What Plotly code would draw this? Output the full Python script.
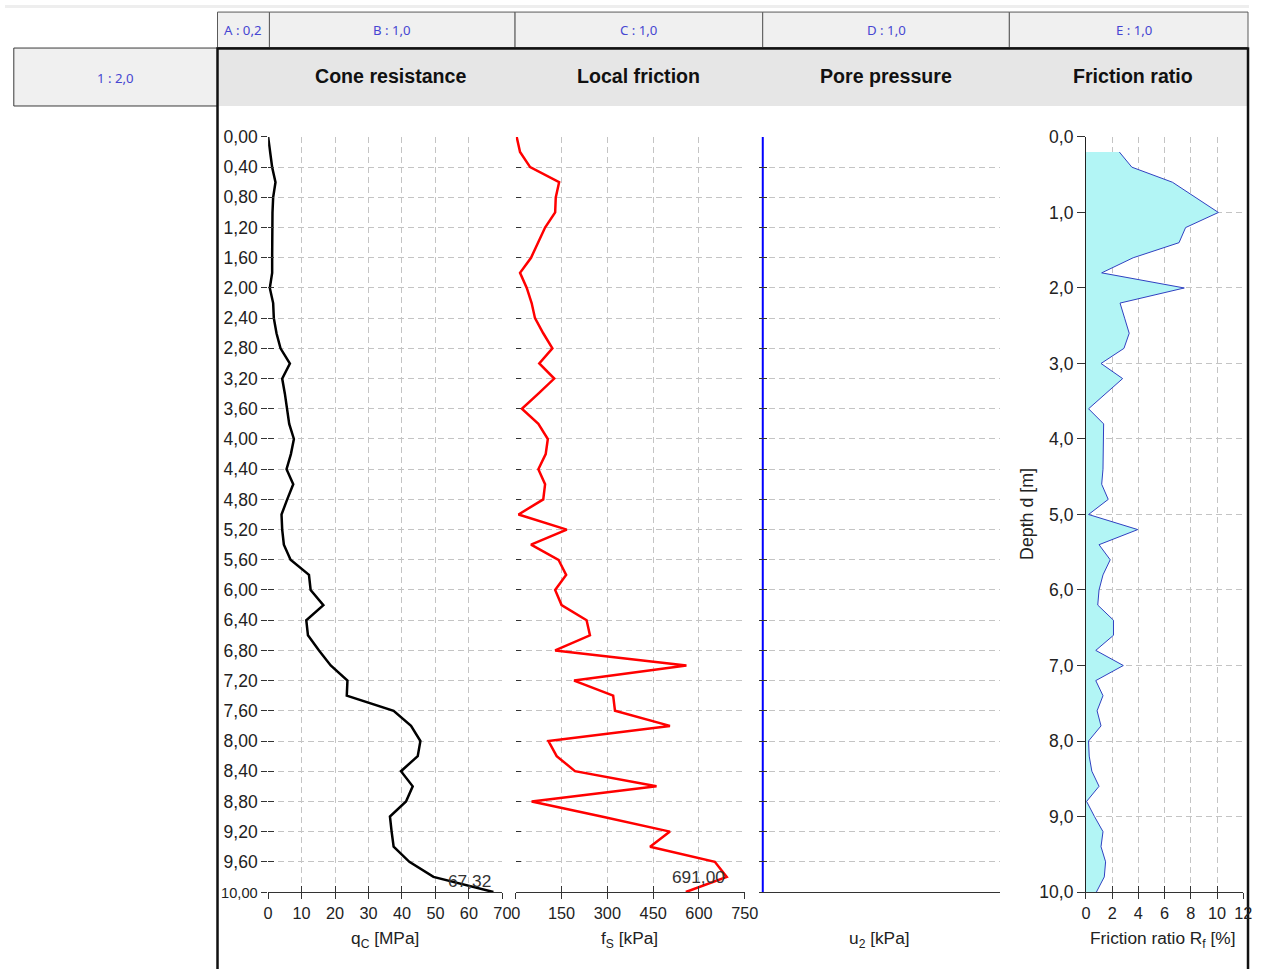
import plotly.graph_objects as go

# ---------------- data ----------------
depth = [0.0, 0.2, 0.4, 0.6, 0.8, 1.0, 1.2, 1.4, 1.6, 1.8,
         2.0, 2.2, 2.4, 2.6, 2.8, 3.0, 3.2, 3.4, 3.6, 3.8,
         4.0, 4.2, 4.4, 4.6, 4.8, 5.0, 5.2, 5.4, 5.6, 5.8,
         6.0, 6.2, 6.4, 6.6, 6.8, 7.0, 7.2, 7.4, 7.6, 7.8,
         8.0, 8.2, 8.4, 8.6, 8.8, 9.0, 9.2, 9.4, 9.6, 9.8, 10.0]

qc_mpa = [0.0, 0.5, 1.2, 2.2, 1.5, 1.3, 1.2, 1.1, 1.2, 1.2,
          0.5, 1.5, 1.7, 2.5, 3.7, 6.5, 4.2, 5.0, 5.7, 6.3,
          7.7, 6.8, 5.5, 7.5, 5.7, 4.0, 4.2, 4.7, 6.7, 12.2,
          12.7, 16.5, 11.4, 11.9, 15.2, 18.7, 23.7, 23.5, 37.5, 42.7,
          45.5, 44.7, 39.7, 43.2, 41.2, 36.4, 36.9, 37.5, 42.2, 49.4, 67.32]

fs_kpa = [3, 14, 47, 142, 131, 129, 96, 74, 50, 14,
          36, 52, 63, 90, 120, 77, 126, 74, 20, 74,
          105, 98, 74, 96, 90, 9, 167, 50, 140, 165,
          129, 150, 232, 243, 129, 559, 191, 319, 325, 505,
          107, 134, 194, 461, 52, 281, 505, 440, 652, 691, 557]

u2_depth = [0.0, 10.0]
u2_kpa = [0.0, 0.0]

rf_depth = [0.2, 0.4, 0.6, 0.8, 1.0, 1.2, 1.4, 1.6, 1.8,
            2.0, 2.2, 2.4, 2.6, 2.8, 3.0, 3.2, 3.4, 3.6, 3.8,
            4.0, 4.2, 4.4, 4.6, 4.8, 5.0, 5.2, 5.4, 5.6, 5.8,
            6.0, 6.2, 6.4, 6.6, 6.8, 7.0, 7.2, 7.4, 7.6, 7.8,
            8.0, 8.2, 8.4, 8.6, 8.8, 9.0, 9.2, 9.4, 9.6, 9.8, 10.0]
rf_pct = [2.55, 3.5, 6.6, 8.4, 10.1, 7.6, 7.1, 3.6, 1.2,
          7.5, 2.6, 2.95, 3.3, 2.9, 1.15, 2.8, 1.5, 0.2, 1.35,
          1.35, 1.3, 1.3, 1.2, 1.7, 0.2, 3.95, 1.0, 1.85, 1.3,
          1.0, 0.9, 2.1, 2.1, 0.75, 2.85, 0.75, 1.3, 0.85, 1.15,
          0.2, 0.25, 0.45, 1.0, 0.05, 0.65, 1.3, 1.15, 1.5, 1.4, 0.8]

depth_ticks = [0.0, 0.4, 0.8, 1.2, 1.6, 2.0, 2.4, 2.8, 3.2, 3.6, 4.0, 4.4, 4.8,
               5.2, 5.6, 6.0, 6.4, 6.8, 7.2, 7.6, 8.0, 8.4, 8.8, 9.2, 9.6, 10.0]

column_headers = ["A : 0,2", "B : 1,0", "C : 1,0", "D : 1,0", "E : 1,0"]
row_header = "1 : 2,0"
panel_titles = ["Cone resistance", "Local friction", "Pore pressure", "Friction ratio"]
axis_titles = ["q<sub>C</sub> [MPa]", "f<sub>S</sub> [kPa]", "u<sub>2</sub> [kPa]",
               "Friction ratio R<sub>f</sub> [%]"]
depth_title = "Depth d [m]"

# ---------------- layout helpers ----------------
W, H = 1263, 969
# map target-picture pixel positions to page pixels (compensates the capture scaling)
SX, BX = 0.9864, 4.18
SY, BY = 0.9802, 8.93
def pgx(x):
    return (x - BX) / SX
def pgy(y):
    return (y - BY) / SY
def px(x):
    return min(max(pgx(x), 0.0), W - 1.0) / W
def py(y):
    return 1 - pgy(y) / H
FS = 1 / 0.983  # font scale

FONT = "Liberation Sans, Arial, sans-serif"
HFONT = "Noto Sans, Open Sans, sans-serif"
GRID = "#c4c4c4"
DASH = "6px,4px"
AX = "#333333"

Y_DOM = [py(891.7), py(136)]

fig = go.Figure()

fig.add_trace(go.Scatter(x=qc_mpa, y=depth, mode="lines", xaxis="x", yaxis="y",
                         line=dict(color="black", width=2.5), showlegend=False, hoverinfo="x+y"))
fig.add_trace(go.Scatter(x=fs_kpa, y=depth, mode="lines", xaxis="x2", yaxis="y2",
                         line=dict(color="#ff0000", width=2.5), showlegend=False, hoverinfo="x+y"))
fig.add_trace(go.Scatter(x=u2_kpa, y=u2_depth, mode="lines", xaxis="x3", yaxis="y3",
                         line=dict(color="#0000ff", width=2), showlegend=False, hoverinfo="x+y"))
fig.add_trace(go.Scatter(x=rf_pct, y=rf_depth, mode="lines", xaxis="x4", yaxis="y4",
                         fill="tozerox", fillcolor="#b2f5f5",
                         line=dict(color="#3040c0", width=1), showlegend=False, hoverinfo="x+y"))

for xa, ya in [("x5", "y"), ("x", "y5"), ("x6", "y2"), ("x7", "y4")]:
    fig.add_trace(go.Scatter(x=[None], y=[None], xaxis=xa, yaxis=ya, mode="lines",
                             showlegend=False, hoverinfo="skip"))

tickfont_x = dict(family=FONT, size=16.3, color="#222222")
tickfont_y = dict(family=FONT, size=17.5, color="#222222")

def depth_label(v):
    s = f"{v:.2f}".replace(".", ",")
    if len(s) > 4:  # the wide label is squeezed in the original
        s = '<span style="font-size:14.6px">' + s + "</span>"
    return s

def xax(dom, rng, dtick, **kw):
    d = dict(domain=[px(dom[0]), px(dom[1])], range=rng, dtick=dtick, tick0=0,
             ticks="outside", ticklen=6, tickcolor=AX, tickwidth=1,
             showline=True, linecolor=AX, linewidth=1,
             showgrid=True, gridcolor=GRID, griddash=DASH, gridwidth=1,
             zeroline=False, tickfont=tickfont_x, fixedrange=True)
    d.update(kw)
    return d

def yax(**kw):
    d = dict(domain=Y_DOM, range=[10, 0], dtick=0.4, tick0=0,
             showgrid=True, gridcolor=GRID, griddash=DASH, gridwidth=1,
             zeroline=False, showline=False, tickcolor=AX, tickwidth=1,
             tickfont=tickfont_y, fixedrange=True)
    d.update(kw)
    return d

QC_DOM = (267.7, 502.3)
FS_DOM = (515.7, 745.0)
U2_DOM = (759.5, 1001.0)
RF_DOM = (1086.7, 1244.3)

def overlay_x(over, anchor, rng, dtick):
    return dict(overlaying=over, anchor=anchor, range=rng, dtick=dtick, tick0=0,
                ticks="inside", ticklen=6, tickcolor=AX, showticklabels=False,
                showgrid=False, showline=False, zeroline=False, fixedrange=True)

layout = dict(
    width=W, height=H, autosize=False,
    margin=dict(l=0, r=0, t=0, b=0, pad=0),
    paper_bgcolor="white", plot_bgcolor="rgba(0,0,0,0)",
    separators=",.",
    font=dict(family=FONT, size=15, color="#222222"),
    showlegend=False,
    xaxis=xax(QC_DOM, [0, 70], 10, anchor="y"),
    yaxis=yax(anchor="x", ticks="outside", ticklen=6, tickmode="array",
              tickvals=depth_ticks, ticktext=[depth_label(v) for v in depth_ticks]),
    xaxis2=xax(FS_DOM, [0, 750], 150, anchor="y2"),
    yaxis2=yax(anchor="x2", ticks="inside", ticklen=5, showticklabels=False),
    xaxis3=xax(U2_DOM, [-1.5, 100], 20, anchor="y3", showticklabels=False, ticks="",
               showgrid=False),
    yaxis3=yax(anchor="x3", ticks="inside", ticklen=8, showticklabels=False),
    xaxis4=xax(RF_DOM, [0, 12], 2, anchor="y4"),
    yaxis4=yax(anchor="x4", dtick=1, tickformat=".1f", ticks="outside", ticklen=8,
               showline=True, linecolor="#222222", linewidth=1),
    xaxis5=overlay_x("x", "y", [0, 70], 10),
    yaxis5=dict(overlaying="y", anchor="x", range=[10, 0], dtick=0.4, tick0=0,
                ticks="inside", ticklen=6, tickcolor=AX, showticklabels=False,
                showgrid=False, showline=False, zeroline=False, fixedrange=True),
    xaxis6=overlay_x("x2", "y2", [0, 750], 150),
    xaxis7=overlay_x("x4", "y4", [0, 12], 2),
)
fig.update_layout(**layout)

# ---------------- frame / table shapes ----------------
shapes = []
shapes.append(dict(type="rect", xref="paper", yref="paper", x0=0, x1=1,
                   y0=py(7), y1=py(4), fillcolor="#eeeeee", line=dict(width=0), layer="below"))
col_edges = [217, 269, 515, 763, 1010, 1260]
for i in range(len(column_headers)):
    shapes.append(dict(type="rect", xref="paper", yref="paper",
                       x0=px(col_edges[i]), x1=px(col_edges[i + 1]), y0=py(46.5), y1=py(11),
                       fillcolor="#f0f0f0", line=dict(color="#5a5a5a", width=1), layer="below"))
shapes.append(dict(type="rect", xref="paper", yref="paper", x0=px(13), x1=px(217),
                   y0=py(105), y1=py(47), fillcolor="#f0f0f0",
                   line=dict(color="#3a3a3a", width=1), layer="below"))
shapes.append(dict(type="rect", xref="paper", yref="paper", x0=px(218), x1=px(1258),
                   y0=py(105), y1=py(48.5), fillcolor="#e6e6e6", line=dict(width=0), layer="below"))
shapes.append(dict(type="rect", xref="paper", yref="paper", x0=px(217), x1=px(1259),
                   y0=-0.05, y1=py(47.5), fillcolor="rgba(0,0,0,0)",
                   line=dict(color="#111111", width=2.5), layer="below"))
fig.update_layout(shapes=shapes)

# ---------------- texts ----------------
ann = []
col_centers = [(col_edges[i] + col_edges[i + 1]) / 2 for i in range(len(column_headers))]
for c, t in zip(col_centers, column_headers):
    ann.append(dict(text=t, x=px(c), y=py(29), xref="paper", yref="paper", showarrow=False,
                    xanchor="center", yanchor="middle",
                    font=dict(family=HFONT, size=13 * FS, color="#4646d2")))
ann.append(dict(text=row_header, x=px(115), y=py(77), xref="paper", yref="paper",
                showarrow=False, xanchor="center", yanchor="middle",
                font=dict(family=HFONT, size=13 * FS, color="#4646d2")))

title_x = [390, 639, 886, 1134]
for xc, t in zip(title_x, panel_titles):
    ann.append(dict(text="<b>" + t + "</b>", x=px(xc), y=py(75), xref="paper", yref="paper",
                    showarrow=False, xanchor="center", yanchor="middle",
                    font=dict(family=FONT, size=19.6, color="#111111")))

axis_title_x = [385, 630, 880, 1164]
for xc, t in zip(axis_title_x, axis_titles):
    ann.append(dict(text=t, x=px(xc), y=py(939), xref="paper", yref="paper",
                    showarrow=False, xanchor="center", yanchor="middle",
                    font=dict(family=FONT, size=17.3, color="#222222")))

ann.append(dict(text=depth_title, x=px(1027), y=py(513), xref="paper", yref="paper",
                showarrow=False, textangle=-90, xanchor="center", yanchor="middle",
                font=dict(family=FONT, size=17.8, color="#222222")))

def fmt(v):
    return f"{v:.2f}".replace(".", ",")

i_qc = max(range(len(qc_mpa)), key=lambda i: qc_mpa[i])
ann.append(dict(text=fmt(qc_mpa[i_qc]), x=qc_mpa[i_qc], y=depth[i_qc], xref="x", yref="y",
                showarrow=False, xanchor="right", yanchor="bottom", yshift=-1,
                font=dict(family=FONT, size=17.3, color="#333333")))
i_fs = max(range(len(fs_kpa)), key=lambda i: fs_kpa[i])
ann.append(dict(text=fmt(fs_kpa[i_fs]), x=fs_kpa[i_fs], y=depth[i_fs], xref="x2", yref="y2",
                showarrow=False, xanchor="right", yanchor="middle",
                font=dict(family=FONT, size=17.3, color="#333333")))

fig.update_layout(annotations=ann)

fig.write_html("out.html", config={"displayModeBar": False},
               post_script="document.body.style.margin='0';document.body.style.overflow='hidden';")
